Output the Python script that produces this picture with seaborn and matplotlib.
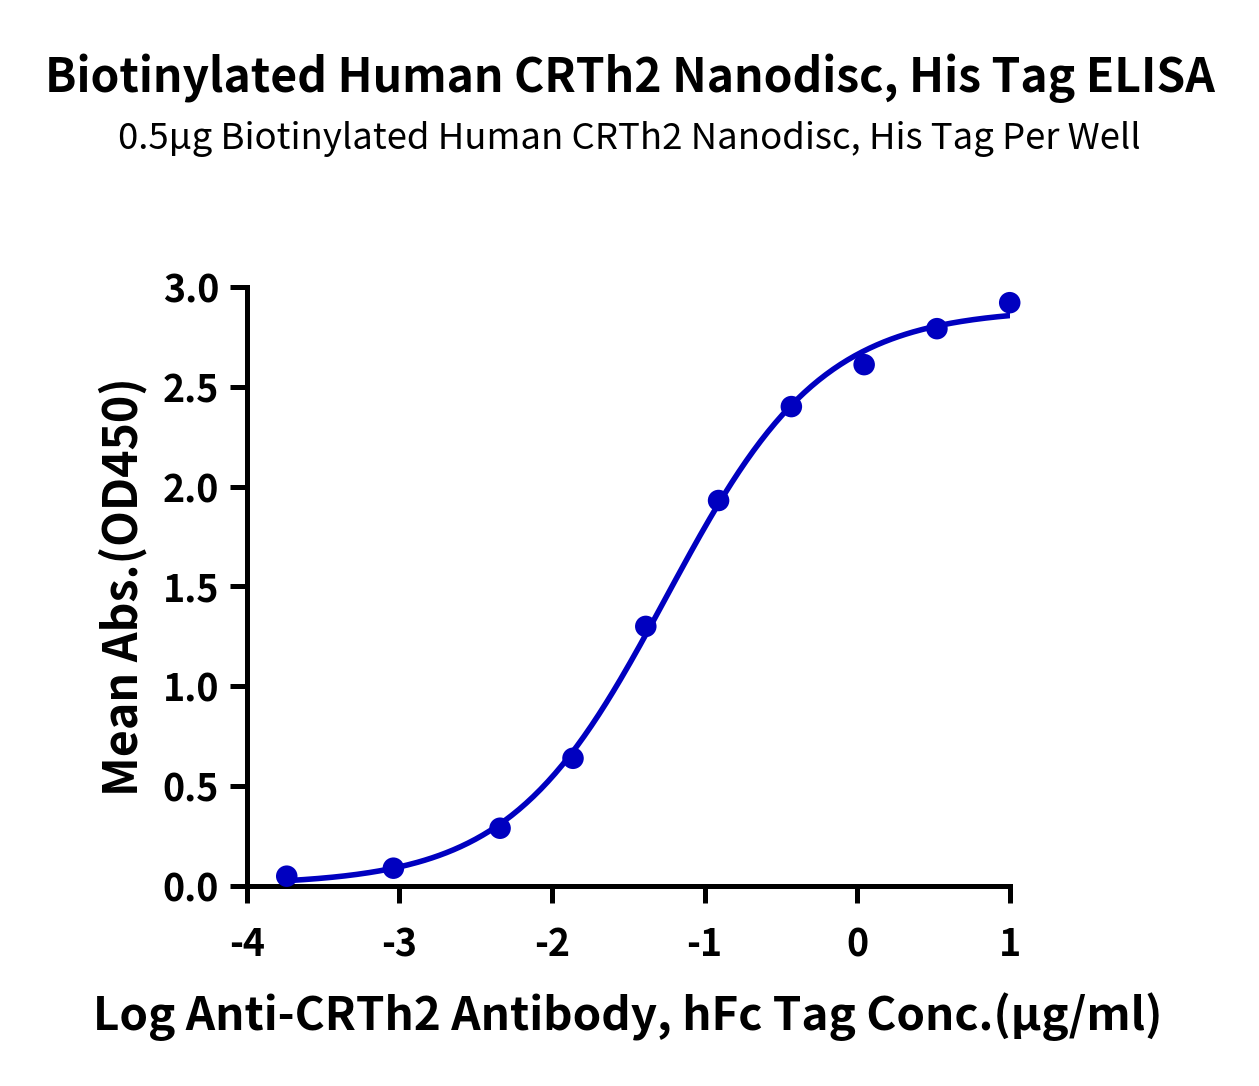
import numpy as np
import pandas as pd
import matplotlib
matplotlib.use("Agg")
import matplotlib.pyplot as plt
import seaborn as sns

# data
log_conc = [-3.738, -3.039, -2.340, -1.862, -1.385, -0.908, -0.431, 0.046, 0.523, 1.0]
mean_abs = [0.05, 0.09, 0.29, 0.64, 1.30, 1.93, 2.40, 2.61, 2.79, 2.92]
x_ticks = [-4, -3, -2, -1, 0, 1]
y_ticks = [0.0, 0.5, 1.0, 1.5, 2.0, 2.5, 3.0]

title = "Biotinylated Human CRTh2 Nanodisc, His Tag ELISA"
subtitle = "0.5μg Biotinylated Human CRTh2 Nanodisc, His Tag Per Well"
xlabel = "Log Anti-CRTh2 Antibody, hFc Tag Conc.(μg/ml)"
ylabel = "Mean Abs.(OD450)"

blue = "#0000c0"

df = pd.DataFrame({"logc": log_conc, "od": mean_abs})

# 4PL least squares fit (grid over logEC50 / hill, linear solve for bottom / top)
x = df["logc"].to_numpy()
y = df["od"].to_numpy()
best = None
for c in np.linspace(-2.5, 0.0, 251):
    for h in np.linspace(0.3, 2.0, 171):
        s = 1.0 / (1.0 + 10 ** ((c - x) * h))
        A = np.column_stack([np.ones_like(s), s])
        coef, *_ = np.linalg.lstsq(A, y, rcond=None)
        err = np.sum((A @ coef - y) ** 2)
        if best is None or err < best[0]:
            best = (err, c, h, coef)
_, ec50, hill, (bottom, span) = best
xf = np.linspace(min(log_conc), max(log_conc), 300)
fit = pd.DataFrame({"logc": xf, "od": bottom + span / (1.0 + 10 ** ((ec50 - xf) * hill))})

sns.set_theme(style="white")
plt.rcParams["font.family"] = ["Noto Sans CJK SC", "DejaVu Sans"]
plt.rcParams["text.color"] = "black"
plt.rcParams["axes.labelcolor"] = "black"
plt.rcParams["xtick.color"] = "black"
plt.rcParams["ytick.color"] = "black"

fig = plt.figure(figsize=(12.59, 10.86), dpi=100)
ax = fig.add_axes([0.196, 0.184, 0.606, 0.552])

sns.lineplot(data=fit, x="logc", y="od", color=blue, linewidth=4.0, ax=ax)
sns.scatterplot(data=df, x="logc", y="od", color=blue, s=240, edgecolor="none", ax=ax, zorder=3)

ax.set_xlim(-4, 1)
ax.set_ylim(0, 3.0)
ax.set_xticks(x_ticks)
ax.set_xticklabels([str(t) for t in x_ticks])
ax.set_yticks(y_ticks)
ax.set_yticklabels([f"{t:.1f}" for t in y_ticks])

for side in ["top", "right"]:
    ax.spines[side].set_visible(False)
for side in ["left", "bottom"]:
    ax.spines[side].set_color("black")
    ax.spines[side].set_linewidth(3.6)
ax.tick_params(axis="both", which="major", direction="out", length=12, width=3.6,
               color="black", labelsize=27, left=True, bottom=True)
ax.tick_params(axis="x", pad=16)
ax.tick_params(axis="y", pad=8)
for lab in ax.get_xticklabels() + ax.get_yticklabels():
    lab.set_fontweight(900)
for coll in ax.collections:
    coll.set_clip_on(False)

ax.set_xlabel(xlabel, fontsize=33, fontweight=900, labelpad=20)
ax.set_ylabel(ylabel, fontsize=33.5, fontweight=900, labelpad=11)

fig.text(0.5, 0.928, title, ha="center", va="center", fontsize=33.3, fontweight=900)
fig.text(0.5, 0.872, subtitle, ha="center", va="center", fontsize=26.3)

fig.savefig("out.png", dpi=100, facecolor="white")
